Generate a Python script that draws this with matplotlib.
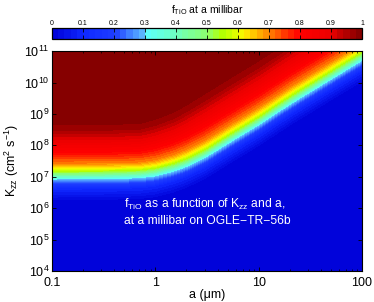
import numpy as np
import matplotlib
matplotlib.use("Agg")
import matplotlib.pyplot as plt
from matplotlib.colors import LinearSegmentedColormap
from matplotlib.ticker import LogLocator, NullLocator, NullFormatter

plt.rcParams["font.family"] = ["Liberation Sans", "DejaVu Sans"]
plt.rcParams["mathtext.default"] = "regular"

# particle size (um) and log10 Kzz where f_TiO = 0.5
a_pts = [0.1, 0.3, 0.7, 1.0, 1.5, 2.0, 3.0, 5.0, 10.0, 20.0, 50.0, 100.0]
logk_half = [7.12, 7.13, 7.16, 7.22, 7.37, 7.52, 7.80, 8.25, 8.85, 9.50, 10.30, 10.90]
# how much wider the upper (red) side of the transition gets with a
upper_width = [1.0, 1.0, 1.0, 1.05, 1.1, 1.15, 1.2, 1.2, 1.2, 1.2, 1.2, 1.2]

# f_TiO profile vs offset (dex) from the half-level
offset_pts = [-1.0, -0.85, -0.51, -0.35, -0.19, 0.0, 0.16, 0.31, 0.65, 1.05, 1.4, 1.8]
f_pts = [0.0, 0.02, 0.10, 0.20, 0.30, 0.50, 0.62, 0.70, 0.80, 0.90, 0.97, 1.0]

cbar_ticks = [0, 0.1, 0.2, 0.3, 0.4, 0.5, 0.6, 0.7, 0.8, 0.9, 1]

# colour scale as seen on the colour bar
cmap_pos = [0.0, 0.1, 0.2, 0.29, 0.30, 0.4, 0.5, 0.55, 0.6, 0.62, 0.65, 0.7, 0.75, 0.8, 0.9, 0.95, 1.0]
cmap_rgb = [(0, 0, 215), (15, 40, 255), (30, 60, 255), (90, 180, 255), (90, 255, 255),
            (110, 255, 190), (140, 255, 110), (180, 255, 0), (230, 255, 0), (255, 245, 0),
            (255, 200, 0), (255, 130, 0), (255, 60, 0), (255, 0, 0), (235, 0, 0),
            (180, 0, 0), (125, 0, 0)]
cmap = LinearSegmentedColormap.from_list(
    "ftio", [(p, tuple(c / 255 for c in rgb)) for p, rgb in zip(cmap_pos, cmap_rgb)])

la = np.linspace(-1, 2, 300)
lk = np.linspace(4, 11, 300)
LA, LK = np.meshgrid(la, lk)
half = np.interp(LA, np.log10(a_pts), logk_half)
width = np.interp(LA, np.log10(a_pts), upper_width)
d = LK - half
d = np.where(d > 0, d / width, d)
f = np.interp(d, offset_pts, f_pts)

fig = plt.figure(figsize=(3.74, 3.02), dpi=100)
ax = fig.add_axes([0.139, 0.1026, 0.829, 0.728])
levels = np.linspace(0, 1, 51)
cs = ax.contourf(10 ** LA, 10 ** LK, f, levels=levels, cmap=cmap, vmin=0, vmax=1)
ax.set_xscale("log")
ax.set_yscale("log")
ax.set_xlim(0.1, 100)
ax.set_ylim(1e4, 1e11)
ax.set_xticks([0.1, 1, 10, 100])
ax.set_xticklabels(["0.1", "1", "10", "100"])
ax.xaxis.set_minor_formatter(NullFormatter())
ax.yaxis.set_major_locator(LogLocator(base=10, numticks=20))
ax.yaxis.set_minor_locator(NullLocator())
ax.tick_params(which="both", direction="in", top=True, right=True, labelsize=9)
ax.tick_params(axis="x", pad=4)
ax.tick_params(axis="y", pad=2)
ax.tick_params(which="major", length=3, width=0.6)
ax.tick_params(which="minor", length=1.6, width=0.5)
for s in ax.spines.values():
    s.set_linewidth(0.8)
ax.set_xlabel("a (\u03bcm)", fontsize=9, labelpad=0)
ax.set_ylabel("K$_{zz}$ (cm$^{2}$ s$^{-1}$)", fontsize=9, labelpad=2)

ax.text(0.232, 0.27, "f$_{TiO}$ as a function of K$_{zz}$ and a,\nat a millibar on OGLE\u2212TR\u221256b",
        transform=ax.transAxes, color="white", fontsize=8.7, ha="left", va="center", linespacing=1.35)

cax = fig.add_axes([0.139, 0.871, 0.829, 0.036])
cb = fig.colorbar(cs, cax=cax, orientation="horizontal", ticks=cbar_ticks)
cb.ax.xaxis.set_ticks_position("top")
cb.ax.xaxis.set_label_position("top")
cb.ax.set_xticklabels(["0", "0.1", "0.2", "0.3", "0.4", "0.5", "0.6", "0.7", "0.8", "0.9", "1"])
cb.ax.tick_params(direction="in", length=3, width=0.6, labelsize=5, pad=1, top=True, bottom=True)
cb.outline.set_linewidth(0.9)
cb.set_label("f$_{TiO}$ at a millibar", fontsize=7.5, labelpad=5)

fig.savefig("out.png", dpi=100)
